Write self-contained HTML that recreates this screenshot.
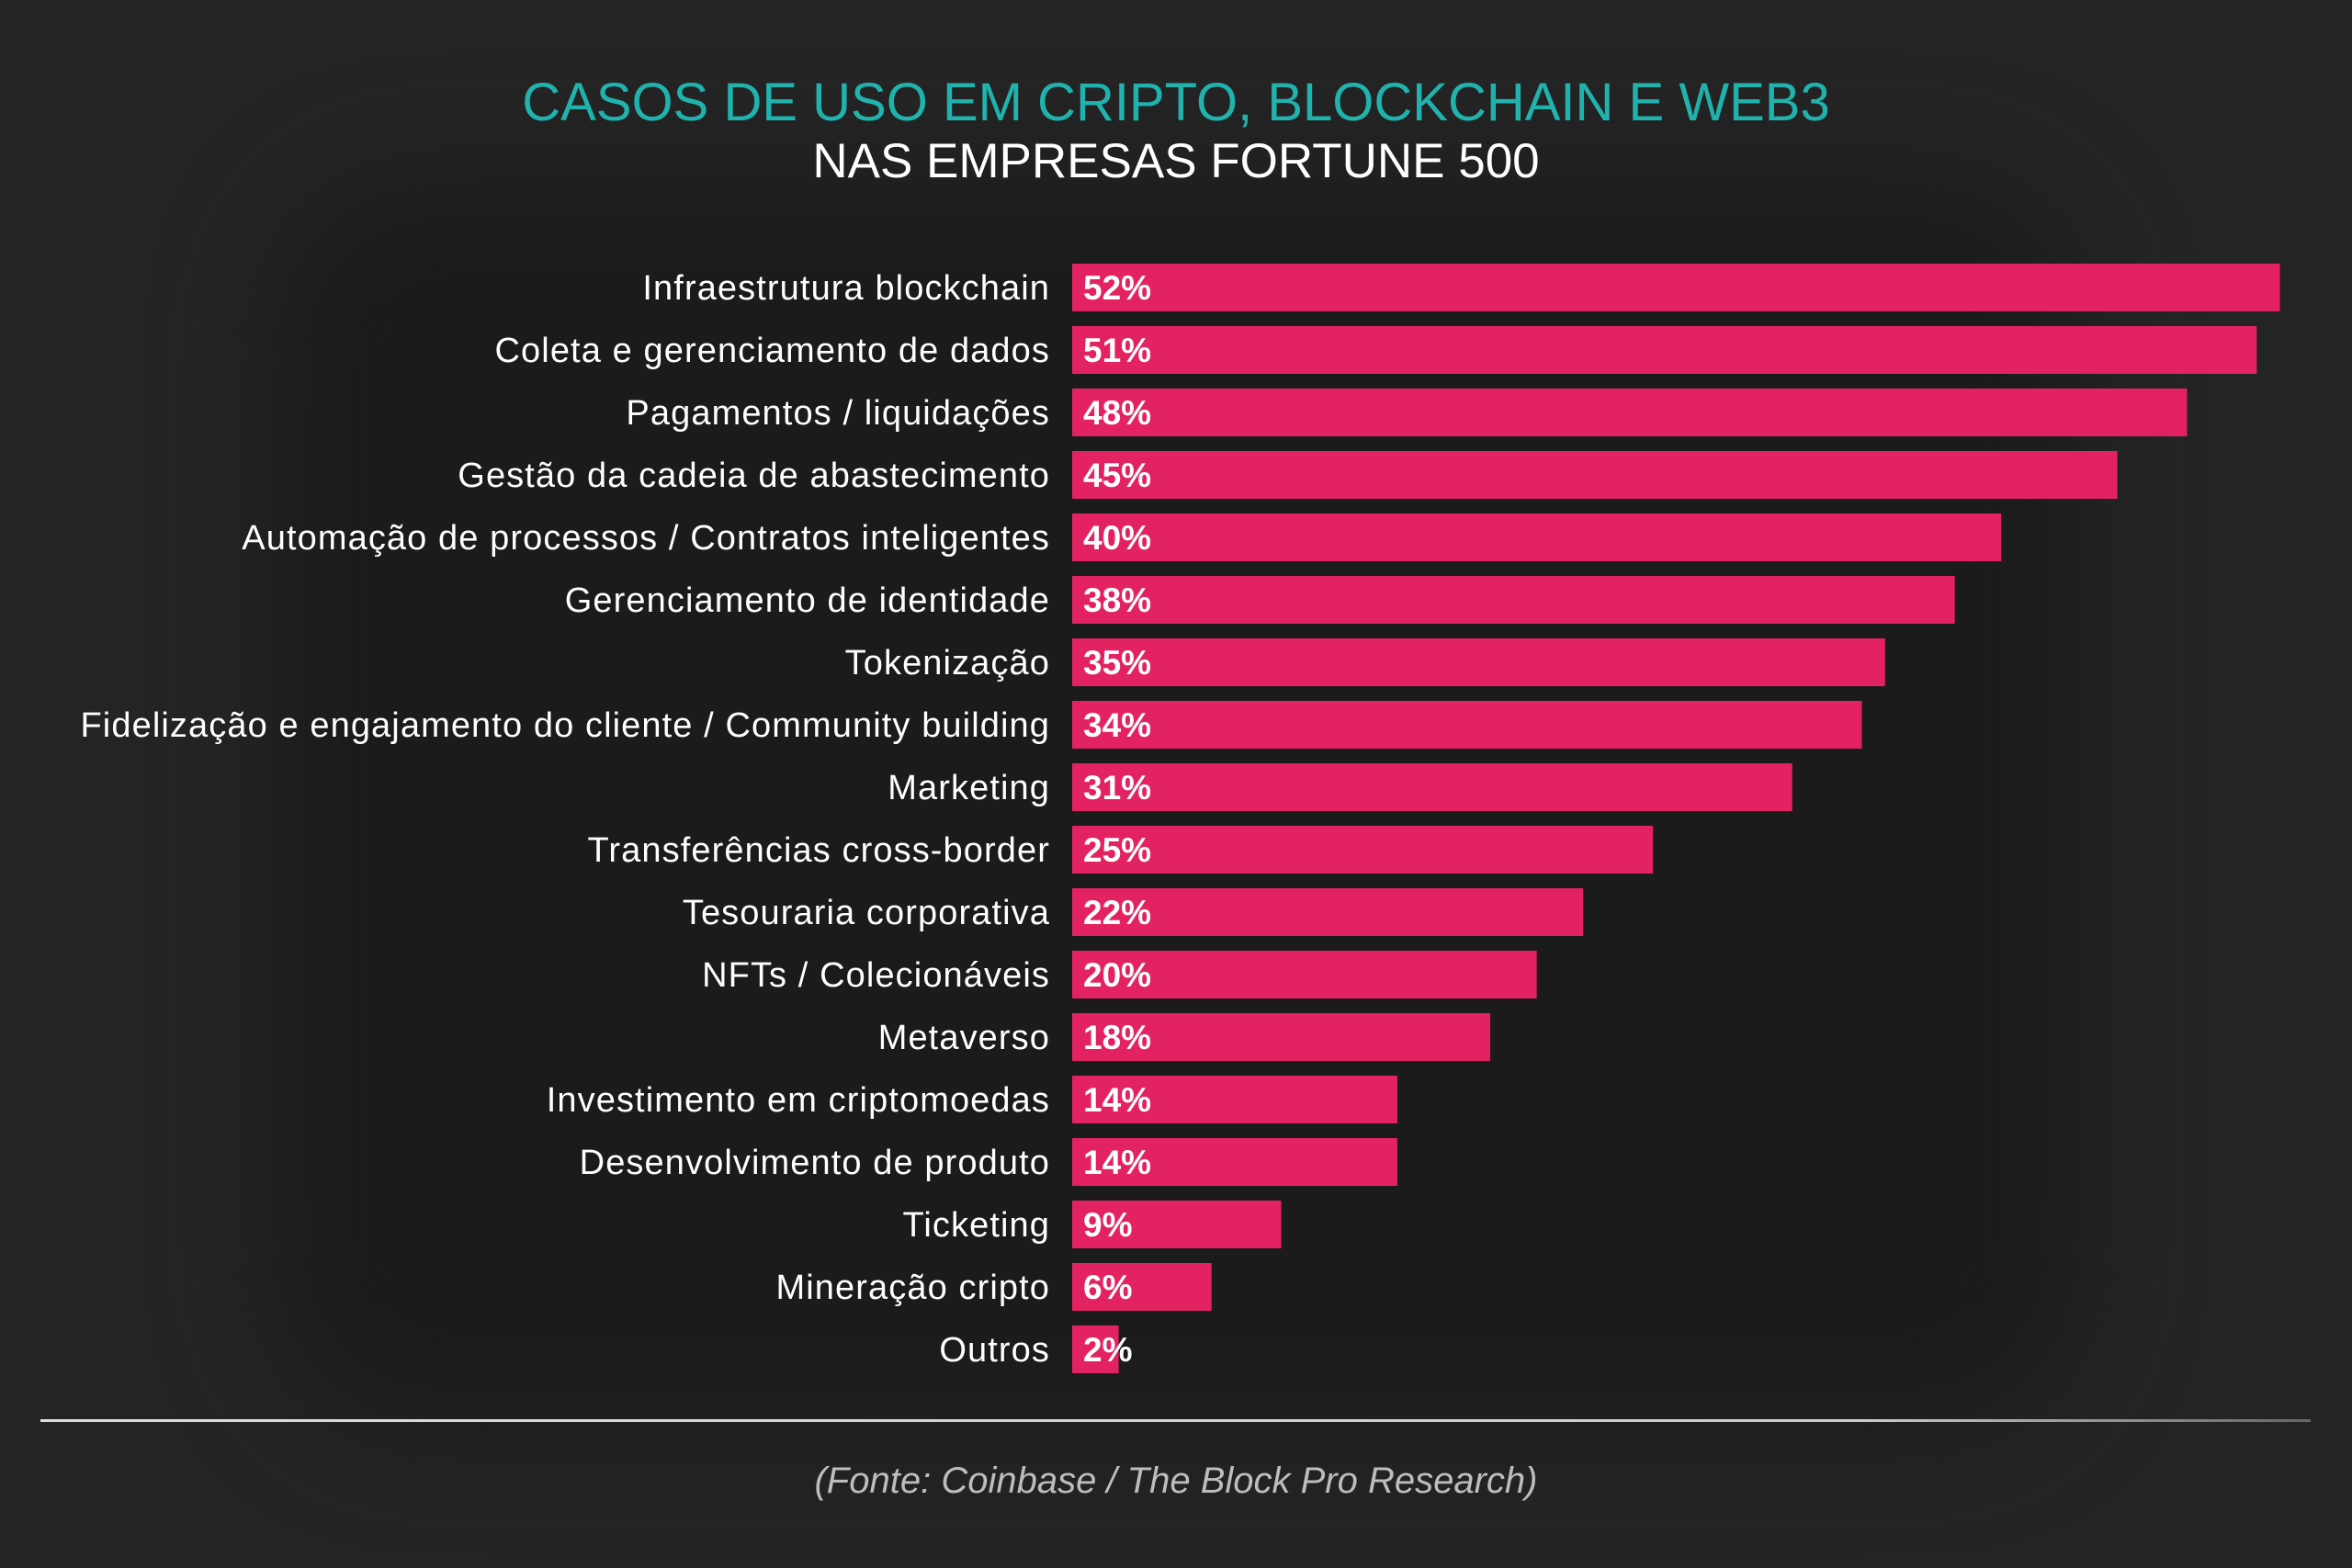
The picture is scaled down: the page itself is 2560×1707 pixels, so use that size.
<!DOCTYPE html>
<html><head><meta charset="utf-8"><style>
html,body{margin:0;padding:0;background:#232323;}
#wrap{position:relative;width:2560px;height:1707px;overflow:hidden;background:#242424;font-family:"Liberation Sans",sans-serif;}
#glow{position:absolute;left:300px;top:200px;width:1960px;height:1350px;border-radius:160px;background:#1b1b1b;filter:blur(60px);}
.t{position:absolute;left:0;width:2560px;text-align:center;}
</style></head><body>
<div id="wrap">
<div id="glow"></div>
<div class="t" style="top:78px;font-size:58px;color:#20b3ae;">CASOS DE USO EM CRIPTO, BLOCKCHAIN E WEB3</div>
<div class="t" style="top:145px;font-size:53px;color:#ffffff;">NAS EMPRESAS FORTUNE 500</div>
<svg id="chart" width="2560" height="1707" style="position:absolute;left:0;top:0;"></svg>
<div style="position:absolute;left:44px;top:1545px;width:2471px;height:3px;background:linear-gradient(90deg,#ddd,#ccc 80%,#666);"></div>
<div class="t" style="top:1590px;font-size:40px;font-style:italic;color:#bdbdbd;">(Fonte: Coinbase / The Block Pro Research)</div>
</div>
<script>
const categories=["Infraestrutura blockchain","Coleta e gerenciamento de dados","Pagamentos / liquidações","Gestão da cadeia de abastecimento","Automação de processos / Contratos inteligentes","Gerenciamento de identidade","Tokenização","Fidelização e engajamento do cliente / Community building","Marketing","Transferências cross-border","Tesouraria corporativa","NFTs / Colecionáveis","Metaverso","Investimento em criptomoedas","Desenvolvimento de produto","Ticketing","Mineração cripto","Outros"];
const values=[52,51,48,45,40,38,35,34,31,25,22,20,18,14,14,9,6,2];
const NS="http://www.w3.org/2000/svg";
const svg=document.getElementById('chart');
const x0=1167, pxPer=25.28, top0=287, pitch=68.0, bh=52;
const xScale=v=>v*pxPer;
const yScale=i=>top0+i*pitch;
categories.forEach((c,i)=>{
  const y=yScale(i);
  const r=document.createElementNS(NS,'rect');
  r.setAttribute('x',x0);r.setAttribute('y',y);r.setAttribute('width',xScale(values[i]));r.setAttribute('height',bh);r.setAttribute('fill','#e32262');
  
  
  svg.appendChild(r);
  const l=document.createElementNS(NS,'text');
  l.setAttribute('x',1143);l.setAttribute('y',y+bh/2+13);l.setAttribute('text-anchor','end');
  l.setAttribute('font-size','38');l.setAttribute('letter-spacing','1.1');l.setAttribute('fill','#ffffff');l.setAttribute('font-family','Liberation Sans, sans-serif');
  l.textContent=c;
  
  
  svg.appendChild(l);
  const v=document.createElementNS(NS,'text');
  v.setAttribute('x',x0+12);v.setAttribute('y',y+bh/2+13);
  v.setAttribute('font-size','37');v.setAttribute('font-weight','bold');v.setAttribute('fill','#ffffff');v.setAttribute('font-family','Liberation Sans, sans-serif');
  v.textContent=values[i]+'%';
  
  
  svg.appendChild(v);
});
</script>
</body></html>
